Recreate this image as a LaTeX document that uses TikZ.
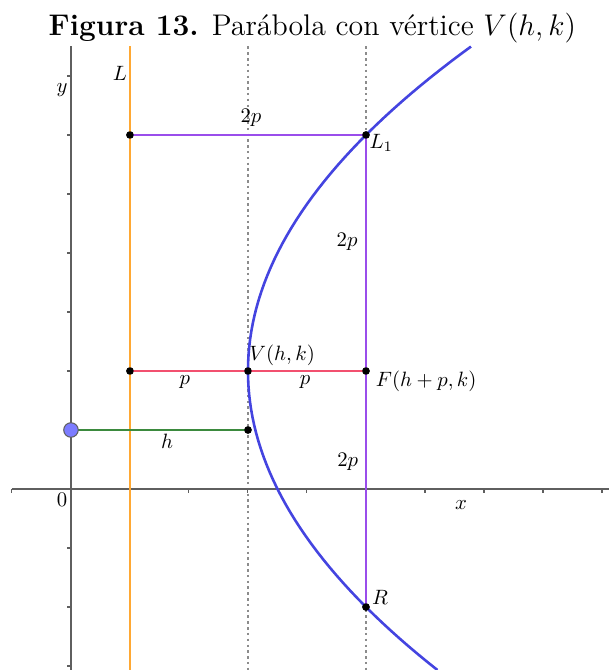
\documentclass[tikz,border=0pt]{standalone}
\usepackage{fontspec}
\usetikzlibrary{positioning, calc}
\definecolor{pbOrange}{HTML}{FFA833}
\definecolor{pbPurple}{HTML}{9A4DEB}
\definecolor{pbPink}{HTML}{F2506F}
\definecolor{pbGreen}{HTML}{3B8A3E}
\definecolor{pbBlue}{HTML}{4444E0}
\definecolor{pbPoint}{HTML}{7C7CFF}
\definecolor{pbAxis}{HTML}{5F5F5F}
\definecolor{pbGuide}{HTML}{8C8C8C}
\tikzset{
  axisline/.style={pbAxis, line width=0.7pt},
  ticmark/.style={pbAxis, line width=0.5pt},
  guide/.style={pbGuide, line width=1pt, dash pattern=on 1.2pt off 1.6pt},
  seg/.style={#1, line width=1.3pt},
  curve/.style={pbBlue, line width=1.25pt},
  dot/.style={circle, fill=black, inner sep=0pt, minimum size=3.6pt},
  bigdot/.style={circle, draw=pbAxis, fill=pbPoint, line width=0.5pt, inner sep=0pt, minimum size=7pt},
  lbl/.style={inner sep=1pt, font=\normalsize}
}
\begin{document}
\begin{tikzpicture}[x=1cm, y=1cm]
  \useasboundingbox (-1.203,-3.068) rectangle (9.119,8.288);
  % title
  \node[font=\Large] (title) at (4.09,7.81) {\textbf{Figura 13.} Parábola con vértice $V(h,k)$};
  % frame points
  \coordinate (xl) at (-1.0,0);
  \coordinate (xr) at (9.119,0);
  \coordinate (yb) at (0,-3.068);
  \coordinate (yt) at (0,7.5);
  \coordinate (Lt) at (1,7.5);
  \coordinate (Lb) at (1,-3.068);
  \coordinate (g3t) at (3,7.5);
  \coordinate (g3b) at (3,-3.068);
  \coordinate (g5t) at (5,7.5);
  \coordinate (g5b) at (5,-3.068);
  % guides and axes
  \draw[guide] (g3t) -- (g3b);
  \draw[guide] (g5t) -- (g5b);
  \draw[axisline] (xl) -- (xr);
  \draw[axisline] (yb) -- (yt);
  \foreach \i in {-1,1,2,...,9}
    \draw[ticmark] (\i,0) -- (\i,-0.07);
  \foreach \j in {-3,-2,-1,1,2,...,7}
    \draw[ticmark] (0,\j) -- (-0.07,\j);
  % points
  \node[dot] (A) at (1,6) {};
  \node[dot] (L1) at (5,6) {};
  \node[dot] (B) at (1,2) {};
  \node[dot] (V) at (3,2) {};
  \node[dot] (F) at (5,2) {};
  \node[dot] (C) at (3,1) {};
  \node[dot] (R) at (5,-2) {};
  \coordinate (P) at (0,1);
  % lines
  \draw[seg=pbOrange] (Lt) -- (Lb);
  \draw[seg=pbPurple] (A.center) -- (L1.center) -- (R.center);
  \draw[seg=pbPink] (B.center) -- (F.center);
  \draw[seg=pbGreen] (P) -- (C.center);
  \draw[curve] plot[domain=-3.068:7.5, samples=80, variable=\t] ({3+(\t-2)^2/8}, \t);
  % redraw points on top
  \foreach \n in {A,L1,B,V,F,C,R}
    \node[dot] at (\n) {};
  \node[bigdot] (Pdot) at (P) {};
  % labels
  \node[lbl] (labL) at (0.83,7.05) {$L$};
  \node[lbl] (laby) at (-0.15,6.76) {$y$};
  \node[lbl] (lab2pa) at (3.05,6.29) {$2p$};
  \node[lbl] (labL1) at (5.26,5.86) {$L_1$};
  \node[lbl] (lab2pb) at (4.68,4.19) {$2p$};
  \node[lbl] (labV) at (3.58,2.27) {$V(h,k)$};
  \node[lbl] (labpa) at (1.93,1.81) {$p$};
  \node[lbl] (labpb) at (3.97,1.81) {$p$};
  \node[lbl] (labF) at (6.02,1.83) {$F(h+p,k)$};
  \node[lbl] (labh) at (1.63,0.81) {$h$};
  \node[lbl] (lab2pc) at (4.69,0.46) {$2p$};
  \node[lbl] (lab0) at (-0.15,-0.19) {$0$};
  \node[lbl] (labx) at (6.61,-0.27) {$x$};
  \node[lbl] (labR) at (5.24,-1.83) {$R$};
\end{tikzpicture}
\end{document}
